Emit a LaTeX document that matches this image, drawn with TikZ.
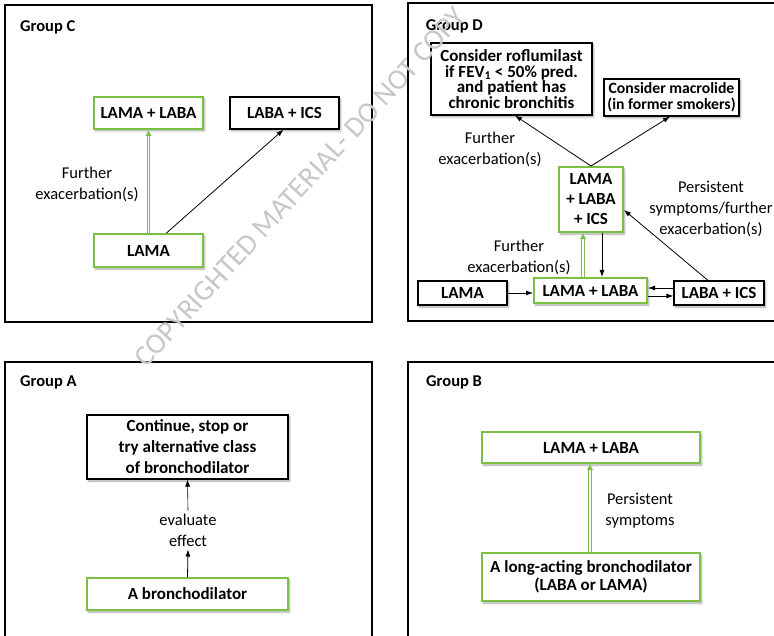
\documentclass[tikz,border=0pt]{standalone}
\usepackage{fontspec}
\setmainfont{Carlito}
\usetikzlibrary{arrows.meta,shadows.blur,calc}
\definecolor{cgreen}{RGB}{122,193,67}
\newcommand\bxf[2]{\fontsize{#1}{#2}\selectfont\bfseries}
\newcommand\lbf{\fontsize{16.5}{21}\selectfont}
\tikzset{
  box/.style={rectangle, fill=white, inner sep=0pt, align=center,
    font={\bxf{17}{17}},
    blur shadow={shadow xshift=1.5pt, shadow yshift=-2pt, shadow blur steps=6,
      shadow blur radius=2pt, shadow opacity=35}},
  gbox/.style={box, draw=cgreen, line width=2pt},
  kbox/.style={box, draw=black, line width=1.2pt},
  lbl/.style={align=center, font=\lbf, inner sep=0pt},
  frame/.style={draw=black, line width=1.2pt},
  grp/.style={anchor=west, font={\bxf{16.5}{17}}, inner sep=0pt},
  arr/.style={-{Latex[length=7pt,width=5pt]}, line width=0.8pt},
  garr/.style={draw=cgreen, double=white, double distance=1.5pt, line width=1.1pt,
    -{Latex[length=6pt,width=6.5pt]}},
}
\begin{document}
\begin{tikzpicture}[x=1pt,y=-1pt]
\useasboundingbox (0,0) rectangle (774,636);
% ---------- Group C
\draw[frame] (5,5) rectangle (372,322);
\node[grp] (gc) at (20,27) {Group C};
\node[gbox, minimum width=109pt, minimum height=32pt] (c1) at (148.5,113) {LAMA + LABA};
\node[kbox, minimum width=109pt, minimum height=32pt] (c2) at (284.5,113) {LABA + ICS};
\node[gbox, minimum width=109pt, minimum height=33pt] (c3) at (148.5,250.5) {LAMA};
\draw[garr] (c3.north) -- (c1.south);
\draw[arr] ($(c3.north)+(18,0)$) -- ($(c2.south)+(-1,0)$);
\node[lbl] (cl) at (87,184) {Further\\exacerbation(s)};
% ---------- Group D
\draw[frame] (408,3) rectangle (780,321);
\node[grp] (gd) at (425.7,26) {Group D};
\node[kbox, minimum width=161pt, minimum height=72pt, font={\bxf{17}{15.7}}] (d1) at (511.5,79)
  {Consider roflumilast\\if FEV\textsubscript{1} < 50\% pred.\\and patient has\\chronic bronchitis};
\node[kbox, minimum width=135pt, minimum height=37pt, font={\bxf{15.7}{15.7}}] (d2) at (671.5,97.5)
  {Consider macrolide\\(in former smokers)};
\node[gbox, minimum width=64pt, minimum height=65pt, font={\bxf{17}{20}}] (d3) at (591,199.5)
  {LAMA\\+ LABA\\+ ICS};
\node[kbox, minimum width=89pt, minimum height=24pt] (d4) at (462.5,293) {LAMA};
\node[gbox, minimum width=113pt, minimum height=25pt] (d5) at (590.5,290.5) {LAMA + LABA};
\node[kbox, minimum width=90pt, minimum height=24pt] (d6) at (719,293) {LABA + ICS};
\draw[arr] (d4.east) -- (d5.west |- d4.east);
\draw[arr] ($(d6.west)+(0,-5)$) -- ($(d5.east)+(0,-2.5)$);
\draw[arr] ($(d5.east)+(0,5.5)$) -- ($(d6.west)+(0,3)$);
\draw[garr] ($(d5.north)+(-7.5,0)$) -- ($(d3.south)+(-8,0)$);
\draw[arr] ($(d3.south)+(11,0)$) -- ($(d5.north)+(11.5,0)$);
\draw[arr] ($(d6.north)+(-11,0)$) -- ($(d3.east)+(0,10.5)$);
\draw[arr] (d3.north) -- ($(d1.south)+(3.5,0)$);
\draw[arr] (d3.north) -- ($(d2.south)+(-1.5,0)$);
\node[lbl] (dl1) at (490,149) {Further\\exacerbation(s)};
\node[lbl] (dl2) at (711,209) {Persistent\\symptoms/further\\exacerbation(s)};
\node[lbl] (dl3) at (519,257) {Further\\exacerbation(s)};
% ---------- Group A
\draw[frame] (5,362) rectangle (372,640);
\node[grp] (ga) at (20,382) {Group A};
\node[kbox, minimum width=201pt, minimum height=64pt, font={\bxf{17}{21}}] (a1) at (187.5,447)
  {Continue, stop or\\try alternative class\\of bronchodilator};
\node[gbox, minimum width=201pt, minimum height=32pt] (a2) at (187.5,594) {A bronchodilator};
\node[lbl, inner sep=3pt] (al) at (188,530) {evaluate\\effect};
\draw[arr] (a2.north) -- (al.south);
\draw[arr, line width=0.6pt] (al.north) -- (a1.south);
% ---------- Group B
\draw[frame] (408,362) rectangle (780,640);
\node[grp] (gb) at (426,382) {Group B};
\node[gbox, minimum width=218pt, minimum height=31pt] (b1) at (591,447.5) {LAMA + LABA};
\node[gbox, minimum width=218pt, minimum height=48pt, font={\bxf{17}{18}}] (b2) at (591,577)
  {A long-acting bronchodilator\\(LABA or LAMA)};
\draw[garr] ($(b2.north)+(-1,0)$) -- ($(b1.south)+(-1,0)$);
\node[lbl] (bl) at (640,511) {Persistent\\symptoms};
% ---------- watermark
\node[rotate=47.5, text=black!22, font={\fontsize{29}{29}\selectfont}] (wm) at (300,187)
  {COPYRIGHTED MATERIAL- DO NOT COPY};
\end{tikzpicture}
\end{document}
